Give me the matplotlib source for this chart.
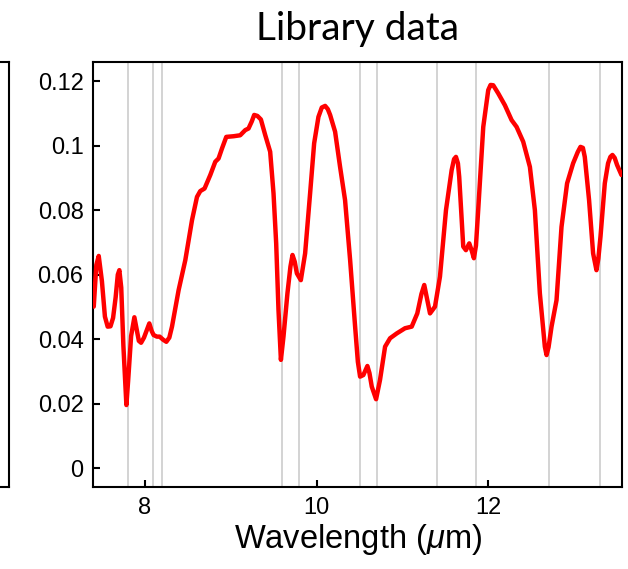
import numpy as np
import matplotlib
matplotlib.use("Agg")
import matplotlib.pyplot as plt

plt.rcParams['font.family'] = ['Liberation Sans', 'DejaVu Sans']
plt.rcParams['mathtext.fontset'] = 'custom'
plt.rcParams['mathtext.it'] = 'Liberation Sans:italic'
plt.rcParams['mathtext.rm'] = 'Liberation Sans'

# library spectrum (wavelength in um, absorbance)
wavelength = [
    7.405, 7.435, 7.463, 7.500, 7.535, 7.567, 7.600, 7.630, 7.660, 7.685,
    7.703, 7.725, 7.750, 7.785, 7.805, 7.840, 7.878, 7.905, 7.930, 7.956,
    7.990, 8.025, 8.052, 8.080, 8.102, 8.140, 8.172, 8.215, 8.250, 8.285,
    8.316, 8.393, 8.471, 8.549, 8.607, 8.645, 8.695, 8.762, 8.820, 8.858,
    8.898, 8.948, 9.033, 9.110, 9.169, 9.207, 9.245, 9.273, 9.310, 9.351,
    9.401, 9.459, 9.498, 9.529, 9.556, 9.584, 9.614, 9.660, 9.695, 9.719,
    9.745, 9.770, 9.816, 9.866, 9.924, 9.971, 10.021, 10.060, 10.099, 10.130,
    10.157, 10.215, 10.273, 10.331, 10.390, 10.448, 10.480, 10.506, 10.544, 10.591,
    10.615, 10.642, 10.692, 10.738, 10.797, 10.855, 10.933, 11.029, 11.107, 11.172,
    11.220, 11.253, 11.290, 11.320, 11.378, 11.436, 11.506, 11.572, 11.600, 11.622,
    11.645, 11.660, 11.707, 11.738, 11.777, 11.805, 11.831, 11.855, 11.881, 11.940,
    11.998, 12.025, 12.056, 12.114, 12.192, 12.270, 12.328, 12.405, 12.483, 12.541,
    12.599, 12.657, 12.677, 12.700, 12.735, 12.793, 12.851, 12.916, 12.986, 13.040,
    13.072, 13.100, 13.122, 13.172, 13.219, 13.258, 13.280, 13.305, 13.355, 13.393,
    13.420, 13.444, 13.470, 13.498, 13.549,
]
absorbance = [
    0.0501, 0.0630, 0.0658, 0.0580, 0.0470, 0.0439, 0.0440, 0.0466, 0.0530, 0.0600,
    0.0614, 0.0560, 0.0380, 0.0196, 0.0270, 0.0410, 0.0468, 0.0430, 0.0395, 0.0389,
    0.0405, 0.0430, 0.0449, 0.0425, 0.0413, 0.0408, 0.0408, 0.0398, 0.0392, 0.0405,
    0.0439, 0.0552, 0.0645, 0.0769, 0.0841, 0.0859, 0.0867, 0.0909, 0.0950, 0.0960,
    0.0991, 0.1027, 0.1029, 0.1032, 0.1048, 0.1053, 0.1075, 0.1095, 0.1092, 0.1081,
    0.1033, 0.0981, 0.0852, 0.0697, 0.0490, 0.0336, 0.0408, 0.0542, 0.0625, 0.0661,
    0.0640, 0.0604, 0.0583, 0.0666, 0.0852, 0.1007, 0.1089, 0.1118, 0.1123, 0.1113,
    0.1095, 0.1043, 0.0934, 0.0831, 0.0645, 0.0439, 0.0330, 0.0284, 0.0289, 0.0317,
    0.0295, 0.0253, 0.0214, 0.0274, 0.0377, 0.0403, 0.0418, 0.0434, 0.0439, 0.0480,
    0.0540, 0.0568, 0.0520, 0.0480, 0.0501, 0.0594, 0.0800, 0.0924, 0.0958, 0.0965,
    0.0945, 0.0903, 0.0687, 0.0676, 0.0697, 0.0675, 0.0651, 0.0690, 0.0800, 0.1058,
    0.1172, 0.1188, 0.1187, 0.1162, 0.1125, 0.1079, 0.1058, 0.1012, 0.0934, 0.0800,
    0.0542, 0.0377, 0.0351, 0.0375, 0.0439, 0.0521, 0.0748, 0.0883, 0.0945, 0.0980,
    0.0996, 0.0993, 0.0965, 0.0831, 0.0666, 0.0614, 0.0650, 0.0718, 0.0883, 0.0945,
    0.0965, 0.0971, 0.0962, 0.0940, 0.0909,
]

# measurement band centres
bands = [7.8, 8.1, 8.2, 9.6, 9.8, 10.5, 10.7, 11.4, 11.85, 12.7, 13.3]

yticks = [0, 0.02, 0.04, 0.06, 0.08, 0.1, 0.12]
ytick_labels = ['0', '0.02', '0.04', '0.06', '0.08', '0.1', '0.12']
xticks = [8, 10, 12]

fig = plt.figure(figsize=(6.28, 5.69), dpi=100)

# neighbouring panel, only its right edge shows
ax0 = fig.add_axes([0.0143 - 0.5, 0.1441, 0.5, 0.7469])
ax0.set_xticks([])
ax0.set_yticks([])
for s in ax0.spines.values():
    s.set_linewidth(1.5)

ax = fig.add_axes([0.1486, 0.1441, 0.8418, 0.7469])

for b in bands:
    ax.axvline(b, color='#c8c8c8', lw=1.1, zorder=1)

ax.plot(wavelength, absorbance, color='#ff0000', lw=3.2, zorder=3,
        solid_joinstyle='round', solid_capstyle='round')

ax.set_xlim(7.4, 13.555)
ax.set_ylim(-0.0058, 0.1259)
ax.set_xticks(xticks)
ax.set_yticks(yticks)
ax.set_yticklabels(ytick_labels)
ax.tick_params(direction='in', length=5, width=1.5, labelsize=17, pad=7,
               top=False, right=False)
for s in ax.spines.values():
    s.set_linewidth(1.5)

ax.set_xlabel(r'Wavelength ($\mu$m)', fontsize=23.5, labelpad=2)
ax.set_title('Library data', fontsize=28, fontfamily='Lato', pad=16)

fig.savefig('out.png', dpi=100)
